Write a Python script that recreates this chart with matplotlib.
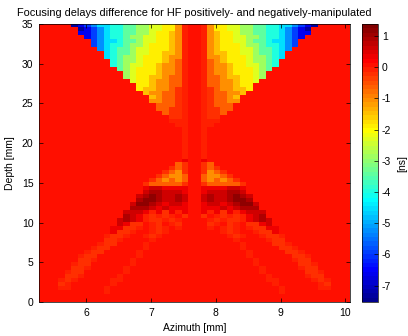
import numpy as np
import matplotlib
matplotlib.use("Agg")
import matplotlib.pyplot as plt
from matplotlib.colors import ListedColormap

plt.rcParams['font.family'] = ['Liberation Sans', 'DejaVu Sans']
plt.rcParams['axes.unicode_minus'] = False

# Delay-difference levels in ns, keyed by the symbols used in the map below
levels = {
    '0': -7.3, '1': -6.6, '2': -5.9, '3': -5.2, '4': -4.6, '5': -4.0,
    '6': -3.4, '7': -2.8, '8': -2.3, '9': -1.9, 'a': -1.5, 'b': -1.1,
    'c': -0.7, 'd': -0.25, 'e': -0.12, '.': 0.0, 'p': 0.3, 'q': 0.6,
    'r': 0.9, 's': 1.2,
}

# Left half of the field (azimuth 5.27 -> 7.67 mm in 0.1 mm cells),
# rows run from depth 35 mm down to 0 mm in 0.5 mm steps.
half_map = [
    ".....0123445566778899be.",
    "......012345566778899be.",
    "......11234556677899abe.",
    ".......1234556778899abe.",
    "........234456678899abe.",
    "........234556778999abe.",
    ".........34566788999abe.",
    "..........456678899aabe.",
    "..........456778999abbe.",
    "...........56778999abce.",
    "...........5678899abbce.",
    "............678999abbce.",
    ".............78999abbce.",
    ".............7899aabcce.",
    "..............899abbcce.",
    "...............99abbcce.",
    "...............9aabbcde.",
    "................abbccde.",
    ".................abccde.",
    ".................bbccde.",
    "..................cccde.",
    "..................ccdde.",
    "...................cdde.",
    "....................dde.",
    "....................eee.",
    ".....................ee.",
    "......................e.",
    "......................e.",
    "......................e.",
    "......................e.",
    "......................e.",
    "......................e.",
    "......................e.",
    "......................e.",
    "......................p.",
    ".....................cd.",
    "....................dcd.",
    "...................dcbd.",
    "..................dcbbc.",
    ".................dcbcbc.",
    "................dcccccd.",
    "................pqqpppp.",
    "................qrrqqqp.",
    "...............qrsrqqrq.",
    "...............rssrqqrq.",
    "..............qssrqpqqp.",
    "..............rrrqpqppp.",
    ".............qqqpepdpep.",
    ".............rqpedede.d.",
    "............qrqpeddede..",
    "............qpdd.ed.ed..",
    "...........ppdde.ede.e..",
    "...........pdde..ede....",
    "..........edde..ede.....",
    "..........dde....e......",
    ".........edd....e.......",
    "........edd.....e.......",
    ".......edd.....e........",
    "......edd......e........",
    "......dde.....e.........",
    ".....edd......e.........",
    ".....dde.....e..........",
    "....edd......e..........",
    "....dde.....e...........",
    "...ede.....ee...........",
    "...de......e............",
    "...ee.....e.............",
    "..........e.............",
    "........................",
    "........................",
]

azimuth_min, azimuth_max = 5.27, 10.07
depth_min, depth_max = 0.0, 35.0
clim = (-7.53, 1.38)
cbar_ticks = [-7, -6, -5, -4, -3, -2, -1, 0, 1]
x_ticks = [6, 7, 8, 9, 10]
y_ticks = [0, 5, 10, 15, 20, 25, 30, 35]

# 64-entry jet table in the classic piecewise-linear form
idx = np.arange(1, 65)
jet_r = np.clip(np.minimum((idx - 24) / 16, (72 - idx) / 16), 0, 1)
jet_g = np.clip(np.minimum((idx - 8) / 16, (56 - idx) / 16), 0, 1)
jet_b = np.clip(np.minimum((idx + 8) / 16, (40 - idx) / 16), 0, 1)
jet64 = ListedColormap(np.column_stack([jet_r, jet_g, jet_b]))

left = np.array([[levels[c] for c in row] for row in half_map])
field = np.hstack([left, left[:, ::-1]])

fig = plt.figure(figsize=(4.08, 3.36), dpi=100)
ax = fig.add_axes([0.0956, 0.101, 0.762, 0.8274])
cax = fig.add_axes([0.887, 0.101, 0.039, 0.8274])

im = ax.imshow(field, cmap=jet64, vmin=clim[0], vmax=clim[1],
               extent=[azimuth_min, azimuth_max, depth_min, depth_max],
               origin='upper', aspect='auto', interpolation='nearest')

ax.set_xticks(x_ticks)
ax.set_yticks(y_ticks)
ax.tick_params(direction='in', length=3, width=0.5, labelsize=7.5,
               top=True, right=True, pad=4)
for s in ax.spines.values():
    s.set_linewidth(0.5)
ax.set_xlabel('Azimuth [mm]', fontsize=7.5, labelpad=4)
ax.set_ylabel('Depth [mm]', fontsize=7.5, labelpad=5)
ax.set_title('Focusing delays difference for HF positively- and negatively-manipulated',
             fontsize=7.9, pad=6)

cb = fig.colorbar(im, cax=cax, ticks=cbar_ticks)
cb.ax.tick_params(direction='in', length=3, width=0.5, labelsize=7.5, pad=3)
cb.outline.set_linewidth(0.5)
cb.set_label('[ns]', fontsize=7.5, labelpad=4)

fig.savefig('out.png', dpi=100)
